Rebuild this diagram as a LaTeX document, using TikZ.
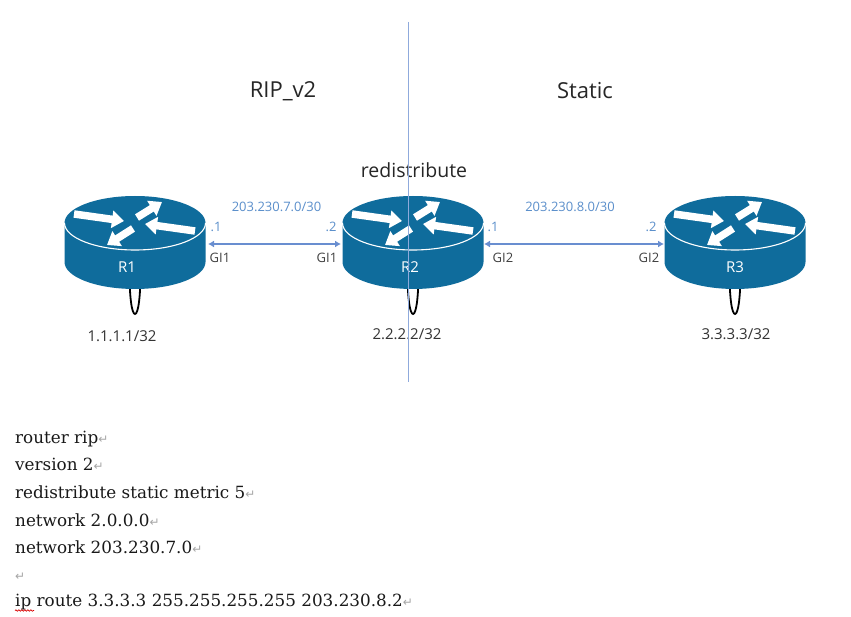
\documentclass[tikz,border=0pt]{standalone}
\usepackage{fontspec}
\setmainfont{Open Sans}
\newfontfamily\codefont{DejaVu Serif}
\newfontfamily\symfont{DejaVu Sans}
\usetikzlibrary{arrows.meta,decorations.pathmorphing}
\definecolor{routerblue}{HTML}{0F6C9C}
\definecolor{axisblue}{HTML}{8FAADC}
\definecolor{linkblue}{HTML}{4472C4}
\definecolor{netblue}{HTML}{5B8FCB}
\definecolor{labelgray}{HTML}{404040}
\newcommand{\retmark}{{\symfont\fontsize{12}{12}\selectfont\textcolor{gray!70}{↵}}}
\tikzset{
  x=1pt,y=-1pt,
  flow/.style={draw=white,line width=7.5pt,-{Triangle[length=12pt,width=17pt,fill=white]}},
  routerbox/.style={minimum width=141pt,minimum height=93pt,inner sep=0pt,outer sep=0pt},
  rname/.style={text=white,font=\fontsize{15}{17}\selectfont},
  ifname/.style={text=labelgray,font=\fontsize{13}{15}\selectfont},
  netname/.style={text=netblue,font=\fontsize{13}{15}\selectfont},
  addr/.style={text=black!80,font=\fontsize{15}{17}\selectfont},
  title/.style={text=black!85,font=\fontsize{22}{26}\selectfont},
  codeline/.style={anchor=base west,inner sep=0pt,text=black!90,font=\codefont\fontsize{16.8}{20}\selectfont},
  linkarrow/.style={draw=linkblue!80,line width=1.2pt,{Latex[length=6pt,width=7pt]}-{Latex[length=6pt,width=7pt]}},
  loopline/.style={draw=black,line width=1.8pt,fill=white},
  axis/.style={draw=axisblue,line width=1.3pt},
  pics/router/.style={code={
    \draw[loopline] (-5.5,48) .. controls (-5.5,76) and (-3,91) .. (0,91) .. controls (3,91) and (5.5,76) .. (5.5,48) -- cycle;
    \fill[routerblue] (-70.5,0) -- (-70.5,39) arc[start angle=180,end angle=360,x radius=70.5,y radius=-27] -- (70.5,0) -- cycle;
    \fill[routerblue] (0,0) ellipse[x radius=70.5,y radius=27];
    \draw[white,line width=1.1pt] (-70.5,0) arc[start angle=180,end angle=360,x radius=70.5,y radius=-27];
    \draw[flow] (-61,-9) -- (-11,-2);
    \draw[flow] (2,-5.5) -- (27,-21);
    \draw[flow] (60,8) -- (10,1);
    \draw[flow] (-2,5.5) -- (-28,22);
  }}
}
\begin{document}
\begin{tikzpicture}
\useasboundingbox (0,0) rectangle (851,617);
\fill[white] (0,0) rectangle (851,617);

% routers
\pic at (135,223) {router};
\pic at (413,223) {router};
\pic at (735,223) {router};
\node[routerbox] (r1) at (135,242.5) {};
\node[routerbox] (r2) at (413,242.5) {};
\node[routerbox] (r3) at (735,242.5) {};
\node[rname] (r1name) at (127,267) {R1};
\node[rname] (r2name) at (410,267) {R2};
\node[rname] (r3name) at (735,267) {R3};

% links
\coordinate (a1) at (208,244);
\coordinate (a2) at (341,244);
\coordinate (b1) at (484,244);
\coordinate (b2) at (664,244);
\draw[linkarrow] (a1) -- (a2);
\draw[linkarrow] (b1) -- (b2);

% labels
\node[netname] (n1) at (276.5,207) {203.230.7.0/30};
\node[netname] (n2) at (570,207) {203.230.8.0/30};
\node[netname] (d1) at (216,227) {.1};
\node[netname] (d2) at (331,227) {.2};
\node[netname] (d3) at (493,227) {.1};
\node[netname] (d4) at (651,227) {.2};
\node[ifname] (g1) at (220,257.5) {GI1};
\node[ifname] (g2) at (327,257.5) {GI1};
\node[ifname] (g3) at (503,257.5) {GI2};
\node[ifname] (g4) at (649,257.5) {GI2};
\node[addr] (l1) at (122,336) {1.1.1.1/32};
\node[addr] (l2) at (407,334) {2.2.2.2/32};
\node[addr] (l3) at (736,334) {3.3.3.3/32};
\node[title] (rip) at (283,91) {RIP\_v2};
\node[title] (static) at (585,91) {Static};
\node[title,font=\fontsize{19.5}{23}\selectfont] (redis) at (414,170) {redistribute};

% boundary
\coordinate (top) at (408.5,22);
\coordinate (bot) at (408.5,382);
\draw[axis] (top) -- (bot);

% code
\node[codeline] (c1) at (15,443) {router rip\retmark};
\node[codeline] (c2) at (15,470) {version 2\retmark};
\node[codeline] (c3) at (15,498) {redistribute static metric 5\retmark};
\node[codeline] (c4) at (15,526) {network 2.0.0.0\retmark};
\node[codeline] (c5) at (15,553) {network 203.230.7.0\retmark};
\node[codeline] (c6) at (15,580) {\retmark};
\node[codeline] (c7) at (15,606) {ip route 3.3.3.3 255.255.255.255 203.230.8.2\retmark};
\draw[red!85!black,line width=.7pt,decorate,decoration={snake,amplitude=.7pt,segment length=3pt}] (c7.base west) ++(0,4.5) -- ++(19,0);
\end{tikzpicture}
\end{document}
